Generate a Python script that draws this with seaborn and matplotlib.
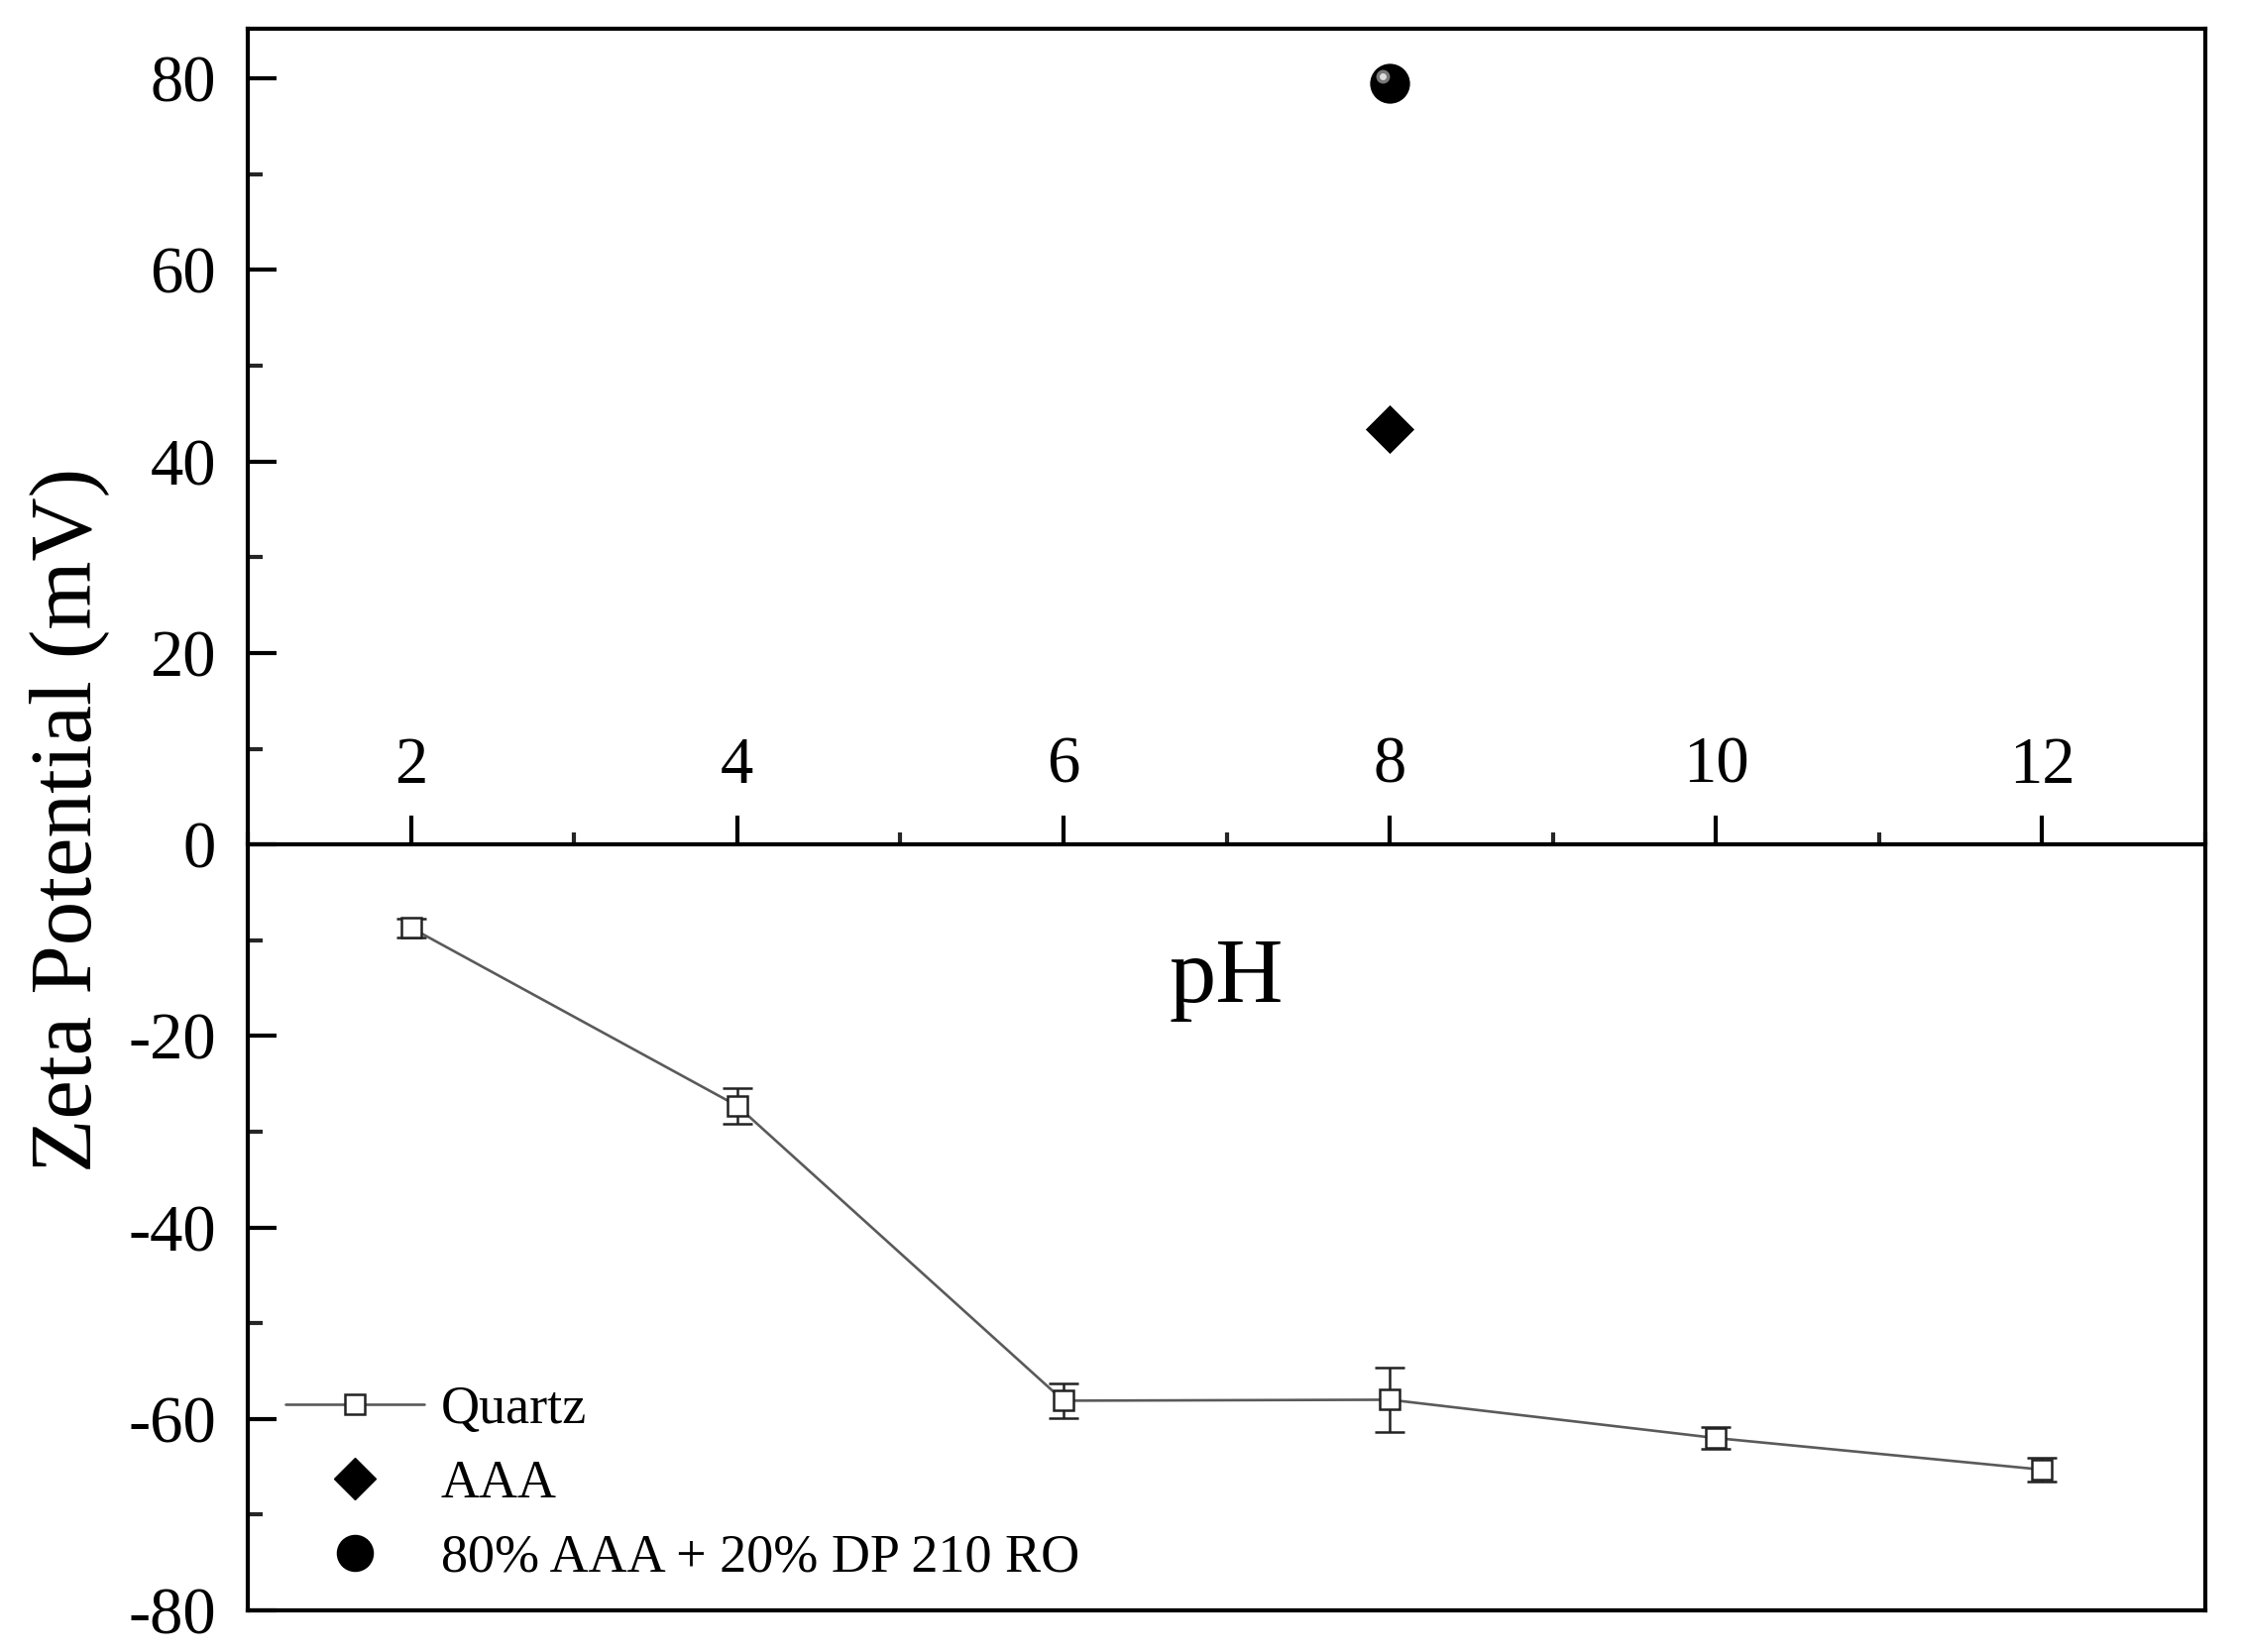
import numpy as np
import pandas as pd
import matplotlib
matplotlib.use('Agg')
import matplotlib.pyplot as plt
from matplotlib.ticker import MultipleLocator
from matplotlib.transforms import ScaledTranslation
import seaborn as sns

# data
ph = [2, 4, 6, 8, 10, 12]
quartz = [-8.7, -27.3, -58.1, -58.0, -62.0, -65.3]
quartz_err = [1.0, 1.9, 1.8, 3.4, 1.1, 1.2]
aaa_ph = [8]
aaa = [43.4]
mix_ph = [8]
mix = [79.5]
labels = ['Quartz', 'AAA', '80% AAA + 20% DP 210 RO']

sns.set_theme(style='ticks')
plt.rcParams['font.family'] = ['Liberation Serif', 'DejaVu Serif']
plt.rcParams['axes.unicode_minus'] = False
plt.rcParams['text.color'] = 'black'
plt.rcParams['axes.labelcolor'] = 'black'

fig = plt.figure(figsize=(22.61, 16.67), dpi=100)
ax = fig.add_axes([0.1106, 0.0252, 0.8735, 0.9574])

df = pd.DataFrame({'pH': ph, 'zeta': quartz})

# quartz curve with error bars
ax.errorbar(ph, quartz, yerr=quartz_err, fmt='none', ecolor='#222222',
            elinewidth=1.8, capsize=11, capthick=1.8, zorder=2)
sns.lineplot(data=df, x='pH', y='zeta', ax=ax, color='#5a5a5a', lw=1.9,
             marker='s', markersize=15, markerfacecolor='white',
             markeredgecolor='#222222', markeredgewidth=1.8, zorder=3)

# single points at pH 8
sns.scatterplot(x=aaa_ph, y=aaa, ax=ax, marker='D', s=25**2, color='black',
                edgecolor='black', linewidth=0, zorder=4)
sns.scatterplot(x=mix_ph, y=mix, ax=ax, marker='o', s=29**2, color='black',
                edgecolor='black', linewidth=0, zorder=4)
# little highlight to mimic the shaded sphere
shift = ScaledTranslation(-5 / 72, 5 / 72, fig.dpi_scale_trans)
ax.scatter(mix_ph, mix, marker='o', s=10**2, color='#777777', linewidth=0,
           zorder=5, transform=ax.transData + shift)
ax.scatter(mix_ph, mix, marker='o', s=5**2, color='#dddddd', linewidth=0,
           zorder=6, transform=ax.transData + shift)

ax.set_xlim(1, 13)
ax.set_ylim(-80, 85.2)

# x axis runs through y = 0, labels above it
ax.spines['top'].set_position(('data', 0))
ax.xaxis.set_ticks_position('top')
ax.xaxis.set_label_position('top')
ax.xaxis.set_major_locator(MultipleLocator(2))
ax.xaxis.set_minor_locator(MultipleLocator(1))
ax.yaxis.set_major_locator(MultipleLocator(20))
ax.yaxis.set_minor_locator(MultipleLocator(10))

for s in ['left', 'right', 'bottom', 'top']:
    ax.spines[s].set_linewidth(3)
    ax.spines[s].set_color('black')
# frame line at the very top
ax.plot([0, 1], [1, 1], transform=ax.transAxes, color='black', lw=3,
        clip_on=False, solid_capstyle='projecting')

ax.tick_params(axis='x', which='major', direction='out', length=21, width=3,
               pad=14, labelsize=48, colors='black')
ax.tick_params(axis='x', which='minor', direction='out', length=9, width=3)
ax.tick_params(axis='y', which='major', direction='in', length=21, width=3,
               pad=23, labelsize=48, colors='black')
ax.tick_params(axis='y', which='minor', direction='in', length=11, width=3)

ax.set_xlabel('pH', fontsize=68, color='black')
ax.xaxis.label.set_va('center')
ax.xaxis.set_label_coords(0.5, 0.399)
ax.set_ylabel('Zeta Potential (mV)', fontsize=64, labelpad=14, color='black')

# legend
handles = [
    plt.Line2D([], [], color='#5a5a5a', lw=1.9, marker='s', markersize=15,
               markerfacecolor='white', markeredgecolor='#222222',
               markeredgewidth=1.8),
    plt.Line2D([], [], ls='none', marker='D', markersize=21, color='black'),
    plt.Line2D([], [], ls='none', marker='o', markersize=26, color='black'),
]
leg = ax.legend(handles, labels, loc='lower left', bbox_to_anchor=(0.019, 0.017),
                frameon=False, fontsize=39, handlelength=2.6, handletextpad=0.3,
                borderpad=0, borderaxespad=0, labelspacing=0.45,
                labelcolor='black')

fig.savefig('out.png', dpi=100)
plt.close(fig)
